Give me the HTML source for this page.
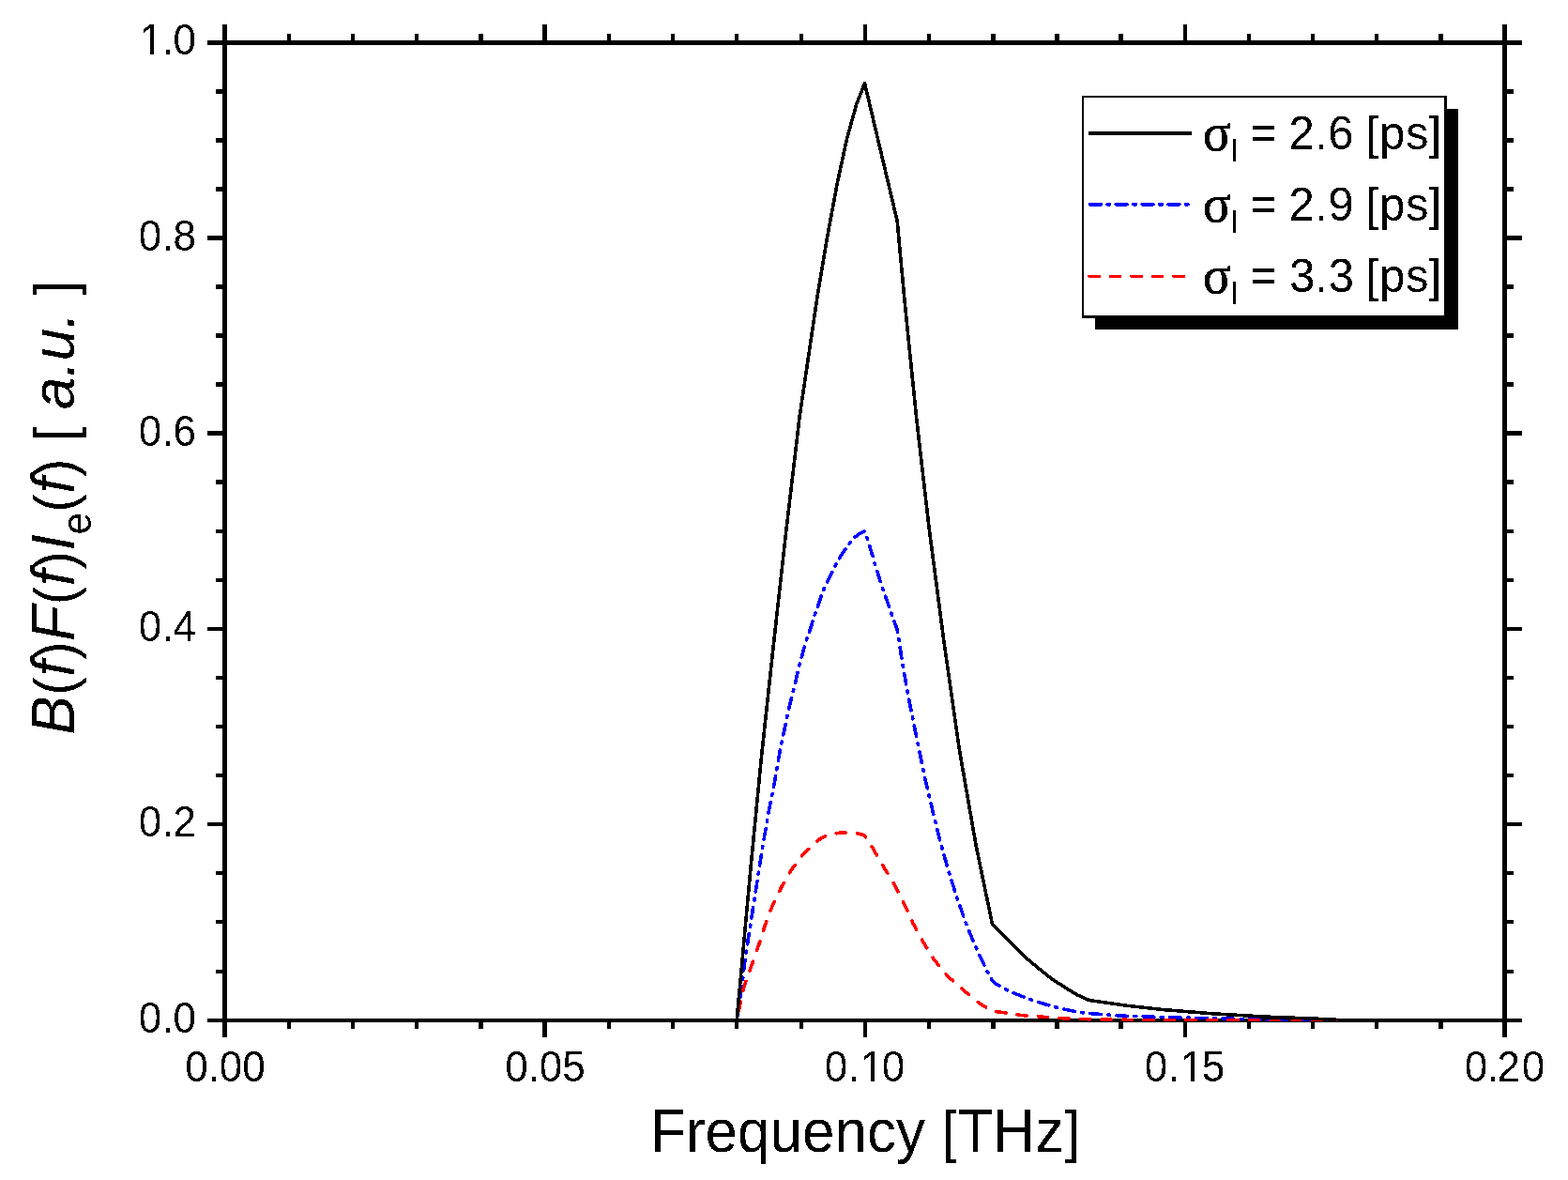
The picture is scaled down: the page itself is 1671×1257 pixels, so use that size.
<!DOCTYPE html>
<html><head><meta charset="utf-8"><title>Frequency spectrum</title>
<style>html,body{margin:0;padding:0;background:#fff}svg{display:block}</style>
</head><body>
<svg width="1671" height="1257" viewBox="0 0 1671 1257" font-family="'Liberation Sans', Arial, sans-serif" fill="#000">
<defs><filter id="th" x="0" y="0" width="1671" height="1257" filterUnits="userSpaceOnUse" color-interpolation-filters="sRGB"><feComponentTransfer><feFuncA type="discrete" tableValues="0 1"/></feComponentTransfer></filter></defs>
<rect width="1671" height="1257" fill="#fff"/>
<g shape-rendering="crispEdges">
<rect x="237" y="26" width="5" height="1079" fill="#000"/>
<rect x="1601" y="26" width="5" height="1079" fill="#000"/>
<rect x="221" y="43" width="1401" height="5" fill="#000"/>
<rect x="221" y="1085" width="1401" height="4" fill="#000"/>
<rect x="306" y="36" width="4" height="7" fill="#000"/>
<rect x="306" y="1089" width="4" height="7" fill="#000"/>
<rect x="374" y="36" width="4" height="7" fill="#000"/>
<rect x="374" y="1089" width="4" height="7" fill="#000"/>
<rect x="442" y="36" width="4" height="7" fill="#000"/>
<rect x="442" y="1089" width="4" height="7" fill="#000"/>
<rect x="510" y="36" width="5" height="7" fill="#000"/>
<rect x="510" y="1089" width="5" height="7" fill="#000"/>
<rect x="578" y="26" width="5" height="17" fill="#000"/>
<rect x="578" y="1089" width="5" height="16" fill="#000"/>
<rect x="647" y="36" width="4" height="7" fill="#000"/>
<rect x="647" y="1089" width="4" height="7" fill="#000"/>
<rect x="715" y="36" width="4" height="7" fill="#000"/>
<rect x="715" y="1089" width="4" height="7" fill="#000"/>
<rect x="783" y="36" width="4" height="7" fill="#000"/>
<rect x="783" y="1089" width="4" height="7" fill="#000"/>
<rect x="852" y="36" width="4" height="7" fill="#000"/>
<rect x="852" y="1089" width="4" height="7" fill="#000"/>
<rect x="920" y="26" width="4" height="17" fill="#000"/>
<rect x="920" y="1089" width="4" height="16" fill="#000"/>
<rect x="988" y="36" width="4" height="7" fill="#000"/>
<rect x="988" y="1089" width="4" height="7" fill="#000"/>
<rect x="1056" y="36" width="5" height="7" fill="#000"/>
<rect x="1056" y="1089" width="5" height="7" fill="#000"/>
<rect x="1124" y="36" width="5" height="7" fill="#000"/>
<rect x="1124" y="1089" width="5" height="7" fill="#000"/>
<rect x="1192" y="36" width="5" height="7" fill="#000"/>
<rect x="1192" y="1089" width="5" height="7" fill="#000"/>
<rect x="1261" y="26" width="4" height="17" fill="#000"/>
<rect x="1261" y="1089" width="4" height="16" fill="#000"/>
<rect x="1329" y="36" width="4" height="7" fill="#000"/>
<rect x="1329" y="1089" width="4" height="7" fill="#000"/>
<rect x="1397" y="36" width="4" height="7" fill="#000"/>
<rect x="1397" y="1089" width="4" height="7" fill="#000"/>
<rect x="1465" y="36" width="4" height="7" fill="#000"/>
<rect x="1465" y="1089" width="4" height="7" fill="#000"/>
<rect x="1533" y="36" width="5" height="7" fill="#000"/>
<rect x="1533" y="1089" width="5" height="7" fill="#000"/>
<rect x="230" y="95" width="7" height="5" fill="#000"/>
<rect x="1606" y="95" width="7" height="5" fill="#000"/>
<rect x="230" y="147" width="7" height="5" fill="#000"/>
<rect x="1606" y="147" width="7" height="5" fill="#000"/>
<rect x="230" y="199" width="7" height="5" fill="#000"/>
<rect x="1606" y="199" width="7" height="5" fill="#000"/>
<rect x="221" y="251" width="16" height="5" fill="#000"/>
<rect x="1606" y="251" width="16" height="5" fill="#000"/>
<rect x="230" y="303" width="7" height="5" fill="#000"/>
<rect x="1606" y="303" width="7" height="5" fill="#000"/>
<rect x="230" y="355" width="7" height="5" fill="#000"/>
<rect x="1606" y="355" width="7" height="5" fill="#000"/>
<rect x="230" y="407" width="7" height="5" fill="#000"/>
<rect x="1606" y="407" width="7" height="5" fill="#000"/>
<rect x="221" y="459" width="16" height="5" fill="#000"/>
<rect x="1606" y="459" width="16" height="5" fill="#000"/>
<rect x="230" y="511" width="7" height="5" fill="#000"/>
<rect x="1606" y="511" width="7" height="5" fill="#000"/>
<rect x="230" y="564" width="7" height="4" fill="#000"/>
<rect x="1606" y="564" width="7" height="4" fill="#000"/>
<rect x="230" y="616" width="7" height="4" fill="#000"/>
<rect x="1606" y="616" width="7" height="4" fill="#000"/>
<rect x="221" y="668" width="16" height="4" fill="#000"/>
<rect x="1606" y="668" width="16" height="4" fill="#000"/>
<rect x="230" y="720" width="7" height="4" fill="#000"/>
<rect x="1606" y="720" width="7" height="4" fill="#000"/>
<rect x="230" y="772" width="7" height="4" fill="#000"/>
<rect x="1606" y="772" width="7" height="4" fill="#000"/>
<rect x="230" y="824" width="7" height="4" fill="#000"/>
<rect x="1606" y="824" width="7" height="4" fill="#000"/>
<rect x="221" y="876" width="16" height="4" fill="#000"/>
<rect x="1606" y="876" width="16" height="4" fill="#000"/>
<rect x="230" y="928" width="7" height="4" fill="#000"/>
<rect x="1606" y="928" width="7" height="4" fill="#000"/>
<rect x="230" y="980" width="7" height="4" fill="#000"/>
<rect x="1606" y="980" width="7" height="4" fill="#000"/>
<rect x="230" y="1033" width="7" height="4" fill="#000"/>
<rect x="1606" y="1033" width="7" height="4" fill="#000"/>
</g>
<clipPath id="plot"><rect x="237" y="43" width="1369" height="1045"/></clipPath>
<g fill="none" stroke-linejoin="round" stroke-linecap="round" shape-rendering="crispEdges" clip-path="url(#plot)">
<path d="M785.1,1087.0 L790.6,1050.6 L794.6,1018.0 L799.7,985.4 L803.8,959.0 L808.9,926.4 L813.4,897.9 L819.1,865.3 L825.2,834.7 L831.3,799.0 L835.0,782.1 L838.4,764.8 L841.1,753.6 L847.6,727.1 L851.7,708.8 L854.7,698.6 L858.8,683.3 L862.9,672.1 L868.0,655.8 L871.6,645.6 L877.1,629.3 L882.2,619.1 L889.4,603.9 L895.5,592.7 L904.5,580.2 L909.5,573.4 L915.5,569.0 L921.2,565.8 L923.6,571.5 L927.3,583.5 L931.3,597.0 L939.3,623.2 L949.4,651.7 L956.6,672.1 L961.7,706.7 L966.8,735.3 L971.9,761.7 L979.0,796.4 L986.1,830.6 L994.3,865.3 L1002.4,897.9 L1011.6,930.4 L1020.7,959.0 L1030.9,987.5 L1042.1,1014.0 L1051.3,1033.3 L1057.4,1044.5 L1061.8,1048.3 L1070.4,1053.4 L1083.3,1059.1 L1095.5,1063.7 L1109.2,1068.4 L1122.8,1072.3 L1136.4,1075.6 L1150.8,1078.5 L1165.2,1079.9 L1193.9,1082.1 L1237.0,1083.5 L1300.0,1085.0 L1340.0,1085.8 L1353.0,1088.2 L1423.0,1088.2" stroke="#00f" stroke-width="3.6" stroke-dasharray="11.7 7.3 2 7.3" stroke-dashoffset="3"/>
<path d="M785.1,1087.0 L792.6,1052.0 L801.8,1026.0 L808.9,1005.8 L815.0,986.5 L823.1,965.0 L832.9,944.7 L843.5,926.4 L855.7,910.0 L872.0,894.8 L880.0,890.6 L886.4,888.5 L895.0,887.2 L903.0,886.9 L912.0,887.4 L920.9,889.6 L929.1,901.9 L940.3,921.3 L953.5,942.7 L963.7,963.0 L972.9,983.4 L984.1,1003.8 L995.3,1022.1 L1009.5,1039.4 L1021.8,1050.6 L1043.1,1068.4 L1048.8,1072.0 L1059.6,1077.5 L1071.8,1078.9 L1087.6,1081.4 L1109.2,1083.1 L1132.1,1084.7 L1158.0,1085.7 L1201.0,1086.3 L1345.0,1086.4 L1353.0,1088.2 L1423.0,1088.2" stroke="#f00" stroke-width="3.6" stroke-dasharray="10.2 12.3" stroke-dashoffset="12.4"/>
<path d="M785.1,1087.0 L788.5,1050.6 L799.5,930.0 L811.5,806.0 L824.0,690.0 L837.5,568.0 L852.1,444.0 L871.0,316.0 L882.2,249.4 L892.4,194.5 L902.6,147.6 L912.8,110.9 L921.5,88.8 L956.2,235.6 L963.6,316.0 L976.5,444.0 L990.3,564.0 L1006.0,684.0 L1022.6,800.0 L1040.0,900.0 L1057.4,984.0 L1068.9,995.9 L1080.4,1007.4 L1093.4,1020.3 L1106.3,1031.1 L1120.6,1042.6 L1135.0,1051.9 L1147.9,1059.8 L1160.9,1065.6 L1201.1,1071.3 L1239.9,1075.6 L1295.0,1080.0 L1350.8,1083.2 L1423.0,1086.0" stroke="#000" stroke-width="3.6"/>
</g>
<g shape-rendering="crispEdges">
<rect x="1167" y="116" width="387" height="235" fill="#000"/>
<rect x="1153" y="102" width="389" height="237" fill="#000"/>
<rect x="1155" y="104" width="384" height="232" fill="#fff"/>
</g>
<g fill="none" stroke-linecap="round" shape-rendering="crispEdges">
<path d="M1161.5,142 L1268.6,142" stroke="#000" stroke-width="4"/>
<path d="M1161.5,217.7 L1267,217.7" stroke="#00f" stroke-width="4" stroke-dasharray="11.5 7.2 2 7.2"/>
<path d="M1161,294.4 L1262,294.4" stroke="#f00" stroke-width="3.6" stroke-dasharray="10.2 12.3"/>
</g>
<g filter="url(#th)">
<text transform="translate(0,159.2) scale(1,1.025)" font-size="49" xml:space="preserve"><tspan x="1281.8" y="0.3" font-size="56" font-family="'Liberation Serif', serif" stroke="#000" stroke-width="0.7">σ</tspan><tspan x="1311.8" y="12.5" font-size="33">l</tspan><tspan x="1319.5" y="0"> </tspan><tspan x="1333.1" y="-1.3" font-size="46.5" stroke="#000" stroke-width="0.5">=</tspan><tspan x="1360.5 1373.5 1401.3 1415.2 1442.7 1455.7 1469.9 1497.9 1522.6" y="0"> 2.6 [ps]</tspan></text>
<text transform="translate(0,235.2) scale(1,1.025)" font-size="49" xml:space="preserve"><tspan x="1281.8" y="0.3" font-size="56" font-family="'Liberation Serif', serif" stroke="#000" stroke-width="0.7">σ</tspan><tspan x="1311.8" y="12.5" font-size="33">l</tspan><tspan x="1319.5" y="0"> </tspan><tspan x="1333.1" y="-1.3" font-size="46.5" stroke="#000" stroke-width="0.5">=</tspan><tspan x="1360.5 1373.5 1401.3 1415.5 1442.7 1455.7 1469.9 1497.9 1522.6" y="0"> 2.9 [ps]</tspan></text>
<text transform="translate(0,311.2) scale(1,1.025)" font-size="49" xml:space="preserve"><tspan x="1281.8" y="0.3" font-size="56" font-family="'Liberation Serif', serif" stroke="#000" stroke-width="0.7">σ</tspan><tspan x="1311.8" y="12.5" font-size="33">l</tspan><tspan x="1319.5" y="0"> </tspan><tspan x="1333.1" y="-1.3" font-size="46.5" stroke="#000" stroke-width="0.5">=</tspan><tspan x="1361.0 1374.0 1401.3 1415.7 1442.7 1455.7 1469.9 1497.9 1522.6" y="0"> 3.3 [ps]</tspan></text>
<text transform="translate(0,1152) scale(1,1.035)" x="197.18 221.65 233.88 258.35" y="0" font-size="44">0.00</text>
<text transform="translate(0,1152) scale(1,1.035)" x="538.18 562.65 574.88 599.35" y="0" font-size="44">0.05</text>
<text transform="translate(0,1152) scale(1,1.035)" x="878.68 904.15 916.88 939.85" y="0" font-size="44">0.10</text>
<text transform="translate(0,1152) scale(1,1.035)" x="1219.68 1245.15 1257.88 1280.85" y="0" font-size="44">0.15</text>
<text transform="translate(0,1152) scale(1,1.035)" x="1560.68 1585.15 1595.58 1621.85" y="0" font-size="44">0.20</text>
<text transform="translate(0,57.5) scale(1,1.035)" x="148.83 173.30 184.53" y="0" font-size="44">1.0</text>
<text transform="translate(0,266.5) scale(1,1.035)" x="147.83 173.30 184.53" y="0" font-size="44">0.8</text>
<text transform="translate(0,474.5) scale(1,1.035)" x="147.83 173.30 184.53" y="0" font-size="44">0.6</text>
<text transform="translate(0,683.0) scale(1,1.035)" x="147.83 173.30 184.53" y="0" font-size="44">0.4</text>
<text transform="translate(0,891.0) scale(1,1.035)" x="147.83 173.30 184.53" y="0" font-size="44">0.2</text>
<text transform="translate(0,1100.0) scale(1,1.035)" x="147.83 173.30 184.53" y="0" font-size="44">0.0</text>
<text transform="translate(922.2,1227) scale(1,1.055)" font-size="62"><tspan x="-229.12" y="0">Frequency </tspan><tspan x="81.58" y="-0.5" font-size="58">[</tspan><tspan x="98.25" y="0">THz</tspan><tspan x="212.45" y="-0.5" font-size="58">]</tspan></text>
<text transform="translate(79.1,782.6) rotate(-90) scale(1,1.055)" font-size="62"><tspan x="0.00" y="0" font-style="italic">B</tspan><tspan x="42.02" y="-0.5" font-size="58">(</tspan><tspan x="62.00" y="0" font-style="italic">f</tspan><tspan x="79.89" y="-0.5" font-size="58">)</tspan><tspan x="99.87" y="0" font-style="italic">F</tspan><tspan x="138.41" y="-0.5" font-size="58">(</tspan><tspan x="158.39" y="0" font-style="italic">f</tspan><tspan x="176.28" y="-0.5" font-size="58">)</tspan><tspan x="196.26" y="0" font-style="italic">I</tspan><tspan x="213.21" y="16.5" font-size="42">e</tspan><tspan x="236.96" y="-0.5" font-size="58">(</tspan><tspan x="256.94" y="0" font-style="italic">f</tspan><tspan x="274.83" y="-0.5" font-size="58">)</tspan><tspan x="294.81" y="0"> </tspan><tspan x="312.59" y="-0.5" font-size="58">[</tspan><tspan x="329.26" y="0"> </tspan><tspan x="346.49" y="0" font-style="italic">a.u.</tspan><tspan x="449.90" y="0"> </tspan><tspan x="467.68" y="-0.5" font-size="58">]</tspan></text>
</g>
<g fill="#fff" shape-rendering="crispEdges">
<rect x="919" y="1148" width="9" height="5" fill="#fff"/>
<rect x="932" y="1148" width="8" height="5" fill="#fff"/>
<rect x="1260" y="1148" width="9" height="5" fill="#fff"/>
<rect x="1273" y="1148" width="8" height="5" fill="#fff"/>
<rect x="151" y="54" width="9" height="5" fill="#fff"/>
<rect x="164" y="54" width="8" height="5" fill="#fff"/>
</g>
</svg>
</body></html>
